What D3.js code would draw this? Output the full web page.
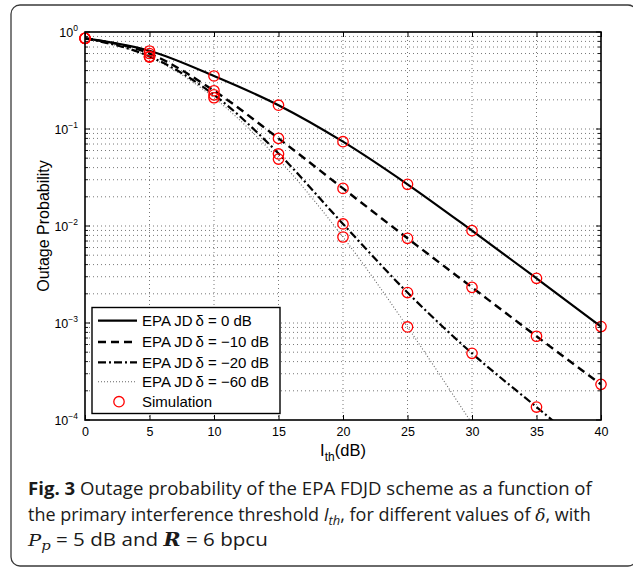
<!DOCTYPE html>
<html>
<head>
<meta charset="utf-8">
<script src="https://cdn.jsdelivr.net/npm/d3@7"></script>
<style>
  html, body { margin: 0; padding: 0; background: #fff; }
  svg { display: block; }
</style>
</head>
<body>
<svg id="chart" width="633" height="572"></svg>
<script>
// ---------- data ----------
const ithDb = [0, 5, 10, 15, 20, 25, 30, 35, 40];
const xTicks = [0, 5, 10, 15, 20, 25, 30, 35, 40];
const yDecades = [-4, -3, -2, -1, 0];

// analytical curves (EPA JD)
const theory0   = [0.86, 0.64, 0.352, 0.176, 0.074, 0.0269, 0.00895, 0.00289, 0.00092];
const theory10  = [0.86, 0.60, 0.248, 0.080, 0.0244, 0.00747, 0.00233, 0.00073, 0.000233];
const theory20  = [0.86, 0.56, 0.225, 0.056, 0.0105, 0.00206, 0.000487, 0.000136, 0.000038];
const theory60  = [0.86, 0.552, 0.210, 0.0487, 0.0077, 0.00091, 0.000092, 0.000009, 0.0000009];

// simulation points
const sim0  = [0.86, 0.637, 0.352, 0.176, 0.074, 0.0269, 0.00895, 0.00289, 0.00092];
const sim10 = [0.86, 0.60, 0.248, 0.080, 0.0244, 0.00747, 0.00233, 0.00073, 0.000233];
const sim20 = [0.86, 0.56, 0.225, 0.0553, 0.0105, 0.00206, 0.000487, 0.000136, null];
const sim60 = [0.86, 0.552, 0.210, 0.049, 0.0077, 0.00091, null, null, null];

const seriesLabels = ["EPA JD\u2009\u03B4 = 0 dB", "EPA JD\u2009\u03B4 = \u221210 dB", "EPA JD\u2009\u03B4 = \u221220 dB", "EPA JD\u2009\u03B4 = \u221260 dB"];
const simLabel = "Simulation";

// ---------- layout ----------
const svg = d3.select("#chart");
const L = 85, R = 601, T = 32, B = 420;
const x = d3.scaleLinear().domain([0, 40]).range([L, R]);
const y = d3.scaleLog().domain([1e-4, 1]).range([B, T]);

// outer frame
svg.append("rect").attr("x", 11).attr("y", 5).attr("width", 626).attr("height", 561)
  .attr("rx", 9).attr("fill", "none").attr("stroke", "#3a3a3a").attr("stroke-width", 1.3);

// grid
const grid = svg.append("g");
const minorVals = [];
yDecades.slice(0, -1).forEach(d => { for (let k = 1; k <= 9; k++) minorVals.push(k * Math.pow(10, d)); });
minorVals.push(1);
grid.selectAll("line.hy").data(minorVals.filter(v => v > 1e-4 && v < 1)).enter().append("line")
  .attr("x1", L).attr("x2", R).attr("y1", d => y(d)).attr("y2", d => y(d))
  .attr("stroke", "#555").attr("stroke-width", 0.8).attr("stroke-dasharray", "1 3");
grid.selectAll("line.vx").data(xTicks.filter(v => v > 0 && v < 40)).enter().append("line")
  .attr("x1", d => x(d)).attr("x2", d => x(d)).attr("y1", T).attr("y2", B)
  .attr("stroke", "#555").attr("stroke-width", 0.8).attr("stroke-dasharray", "1 3");

// clip
svg.append("clipPath").attr("id", "plotclip").append("rect")
  .attr("x", L).attr("y", T).attr("width", R - L).attr("height", B - T);

const styles = [
  { dash: null, color: "#000", w: 2.2 },
  { dash: "8 5", color: "#000", w: 2.4 },
  { dash: "8 3 2 3", color: "#000", w: 2.2 },
  { dash: "1 2", color: "#666", w: 1.1 }
];
const theories = [theory0, theory10, theory20, theory60];
const sims = [sim0, sim10, sim20, sim60];

const line = d3.line().x(d => x(d[0])).y(d => y(d[1])).curve(d3.curveMonotoneX);
const plot = svg.append("g").attr("clip-path", "url(#plotclip)");
theories.slice().reverse().forEach((t, ri) => {
  const i = theories.length - 1 - ri;
  plot.append("path")
    .attr("d", line(ithDb.map((v, j) => [v, t[j]])))
    .attr("fill", "none").attr("stroke", styles[i].color).attr("stroke-width", styles[i].w)
    .attr("stroke-dasharray", styles[i].dash);
});

// markers
const markerG = svg.append("g");
sims.forEach(s => {
  markerG.selectAll(null).data(ithDb.map((v, j) => [v, s[j]]).filter(d => d[1] != null && d[1] >= 1e-4))
    .enter().append("circle")
    .attr("cx", d => x(d[0])).attr("cy", d => y(d[1])).attr("r", 5.2)
    .attr("fill", "none").attr("stroke", "#ff0000").attr("stroke-width", 1.3);
});

// axes box
const axG = svg.append("g").attr("font-family", "'Liberation Sans', Arial, sans-serif");
axG.append("rect").attr("x", L).attr("y", T).attr("width", R - L).attr("height", B - T)
  .attr("fill", "none").attr("stroke", "#000").attr("stroke-width", 1.6);

// x ticks (bottom and top, inward)
const xAxisB = d3.axisBottom(x).tickValues(xTicks).tickSize(-5).tickPadding(7).tickFormat(d3.format("d"));
const gxb = axG.append("g").attr("transform", `translate(0,${B})`).call(xAxisB);
gxb.select(".domain").remove();
gxb.selectAll("text").attr("font-size", 12.5).attr("fill", "#000").attr("font-family", "'Liberation Sans', Arial, sans-serif");
gxb.selectAll("line").attr("stroke", "#000");
const xAxisT = d3.axisTop(x).tickValues(xTicks).tickSize(-5).tickFormat("");
const gxt = axG.append("g").attr("transform", `translate(0,${T})`).call(xAxisT);
gxt.select(".domain").remove();

// y ticks (major + minor, left and right, inward)
const yMajor = yDecades.map(d => Math.pow(10, d));
const yMinor = minorVals.filter(v => !yMajor.some(m => Math.abs(m - v) < 1e-12));
[["left", L], ["right", R]].forEach(([side, xpos]) => {
  const dir = side === "left" ? 1 : -1;
  axG.append("g").selectAll("line").data(yMajor).enter().append("line")
    .attr("x1", xpos).attr("x2", xpos + dir * 5).attr("y1", d => y(d)).attr("y2", d => y(d))
    .attr("stroke", "#000").attr("stroke-width", 1);
  axG.append("g").selectAll("line").data(yMinor).enter().append("line")
    .attr("x1", xpos).attr("x2", xpos + dir * 3).attr("y1", d => y(d)).attr("y2", d => y(d))
    .attr("stroke", "#000").attr("stroke-width", 0.9);
});
// y tick labels 10^k
const ylab = axG.append("g");
yDecades.forEach(d => {
  const t = ylab.append("text").attr("x", L - 7).attr("y", y(Math.pow(10, d)) + 4.5)
    .attr("text-anchor", "end").attr("font-size", 12.5).attr("fill", "#000");
  t.append("tspan").text("10");
  t.append("tspan").attr("dy", -6).attr("font-size", 8.5).text(d === 0 ? "0" : "\u2212" + (-d));
});

// axis labels
axG.append("text").attr("transform", `translate(49,${(T + B) / 2}) rotate(-90)`)
  .attr("text-anchor", "middle").attr("font-size", 16).attr("fill", "#000").text("Outage Probability");
const xl = axG.append("text").attr("x", (L + R) / 2).attr("y", 456).attr("text-anchor", "middle")
  .attr("font-size", 16.5).attr("fill", "#000");
xl.append("tspan").text("I");
xl.append("tspan").attr("dy", 5).attr("font-size", 12).text("th");
xl.append("tspan").attr("dy", -5).text("(dB)");

// legend
const lg = axG.append("g");
lg.append("rect").attr("x", 92).attr("y", 307.5).attr("width", 188).attr("height", 106)
  .attr("fill", "#fff").attr("stroke", "#000").attr("stroke-width", 1.4);
const rowY = [320.7, 342, 362.3, 381.8, 401.7];
seriesLabels.forEach((lab, i) => {
  lg.append("line").attr("x1", 98).attr("x2", 137).attr("y1", rowY[i]).attr("y2", rowY[i])
    .attr("stroke", styles[i].color).attr("stroke-width", styles[i].w).attr("stroke-dasharray", styles[i].dash);
  lg.append("text").attr("x", 142).attr("y", rowY[i] + 5.3).attr("font-size", 15).attr("fill", "#000").text(lab);
});
lg.append("circle").attr("cx", 119).attr("cy", rowY[4]).attr("r", 5.2)
  .attr("fill", "none").attr("stroke", "#ff0000").attr("stroke-width", 1.3);
lg.append("text").attr("x", 142).attr("y", rowY[4] + 5.3).attr("font-size", 15).attr("fill", "#000").text(simLabel);

// caption
const cap = svg.append("g").attr("font-family", "'Open Sans', 'Noto Sans', sans-serif").attr("fill", "#1a1a1a");
const fs = 18;
function capLine(yb, parts, targetW) {
  const g = cap.append("g");
  const t = g.append("text").attr("x", 0).attr("y", 0).attr("font-size", fs);
  parts.forEach(p => {
    const ts = t.append("tspan").text(p.t);
    if (p.b) ts.attr("font-weight", "bold");
    if (p.i) ts.attr("font-style", "italic");
    if (p.sub) ts.attr("dy", 4).attr("font-size", fs * 0.72);
    if (p.up) ts.attr("dy", -4);
    if (p.f) ts.attr("font-family", p.f);
    if (p.fs) ts.attr("font-size", p.fs);
  });
  const w = t.node().getComputedTextLength();
  const sx = targetW / w;
  g.attr("transform", `translate(28,${yb}) scale(${sx},1)`);
  return sx;
}
capLine(495, [{ t: "Fig. 3", b: true }, { t: " Outage probability of the EPA FDJD scheme as a function of" }], 564);
capLine(521, [{ t: "the primary interference threshold " }, { t: "I", i: true }, { t: "th", i: true, sub: true }, { t: ", for different values of ", up: true }, { t: "\u03B4", i: true, f: "'DejaVu Serif', serif", fs: fs * 0.95 }, { t: ", with" }], 563);
capLine(546, [
  { t: "P", i: true, f: "'DejaVu Serif', serif", fs: fs * 0.95 },
  { t: "p", i: true, f: "'DejaVu Serif', serif", sub: true },
  { t: " = 5 dB and ", up: true },
  { t: "R", i: true, b: true, f: "'DejaVu Serif', serif" },
  { t: " = 6 bpcu" }
], 240);
</script>
</body>
</html>
